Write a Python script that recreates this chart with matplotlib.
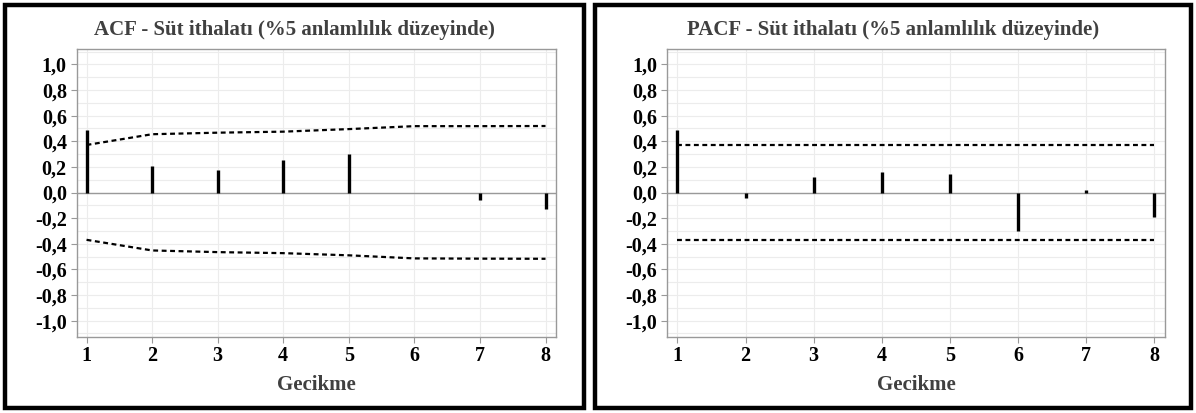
import numpy as np
import matplotlib.pyplot as plt
from matplotlib.patches import Rectangle

## data
lags = [1, 2, 3, 4, 5, 6, 7, 8]
acf_vals = [0.488, 0.206, 0.177, 0.252, 0.301, 0.0, -0.062, -0.127]
acf_upper = [0.371, 0.455, 0.467, 0.475, 0.495, 0.518, 0.518, 0.519]
acf_lower = [-0.369, -0.452, -0.465, -0.473, -0.490, -0.514, -0.516, -0.517]
pacf_vals = [0.488, -0.044, 0.120, 0.164, 0.143, -0.299, 0.023, -0.190]
pacf_upper = [0.371] * 8
pacf_lower = [-0.369] * 8
yticks = [-1.0, -0.8, -0.6, -0.4, -0.2, 0.0, 0.2, 0.4, 0.6, 0.8, 1.0]
ytick_labels = ["-1,0", "-0,8", "-0,6", "-0,4", "-0,2", "0,0", "0,2", "0,4", "0,6", "0,8", "1,0"]
titles = ["ACF - Süt ithalatı (%5 anlamlılık düzeyinde)",
          "PACF - Süt ithalatı (%5 anlamlılık düzeyinde)"]
xlabel = "Gecikme"

plt.rcParams['font.family'] = ['Liberation Serif', 'DejaVu Serif']
plt.rcParams['font.weight'] = 'bold'

W, H = 1196, 413
fig = plt.figure(figsize=(W / 100, H / 100), dpi=100)

## panel frames (pixel coords -> figure fraction)
for x0, x1 in [(5, 584), (595, 1191)]:
    fig.patches.append(Rectangle((x0 / W, 5 / H), (x1 - x0) / W, (H - 10) / H,
                                 transform=fig.transFigure, fill=False,
                                 edgecolor='black', linewidth=3.2, zorder=0))

ax_pos = [(76.5, 556), (667, 1165)]
panel_centers = [294.5, 893]
data = [(acf_vals, acf_upper, acf_lower), (pacf_vals, pacf_upper, pacf_lower)]

for i in range(2):
    px0, px1 = ax_pos[i]
    ax = fig.add_axes([px0 / W, 1 - 336.7 / H, (px1 - px0) / W, (336.7 - 49) / H])
    vals, up, lo = data[i]

    ax.set_xlim(0.847, 8.16)
    ax.set_ylim(-1.125, 1.12)
    ax.set_yticks(yticks)
    ax.set_yticks(np.arange(-1.1, 1.11, 0.2), minor=True)
    ax.set_yticklabels(ytick_labels)
    ax.set_xticks(lags)
    ax.grid(True, which='both', color='#ececec', linewidth=0.8)
    ax.set_axisbelow(True)
    ax.tick_params(axis='y', which='minor', length=0)
    ax.tick_params(axis='both', which='major', length=4, width=0.8, color='#999999',
                   labelsize=14.5, pad=3)
    for lbl in ax.get_xticklabels() + ax.get_yticklabels():
        lbl.set_fontweight('bold')
    for s in ax.spines.values():
        s.set_color('#999999')
        s.set_linewidth(1.0)

    ax.axhline(0, color='#999999', linewidth=1.0, zorder=2)
    ax.vlines(lags, 0, vals, color='black', linewidth=2.4, zorder=3)
    ax.plot(lags, up, color='black', linewidth=1.6, linestyle=(0, (2.2, 1.6)), zorder=3)
    ax.plot(lags, lo, color='black', linewidth=1.6, linestyle=(0, (2.2, 1.6)), zorder=3)

    fig.text(panel_centers[i] / W, 1 - 30 / H, titles[i], ha='center', va='center',
             fontsize=15, fontweight='bold', color='#404040')
    fig.text((px0 + px1) / 2 / W, 1 - 385 / H, xlabel, ha='center', va='center',
             fontsize=15, fontweight='bold', color='#404040')

plt.savefig("out.png", dpi=100)
